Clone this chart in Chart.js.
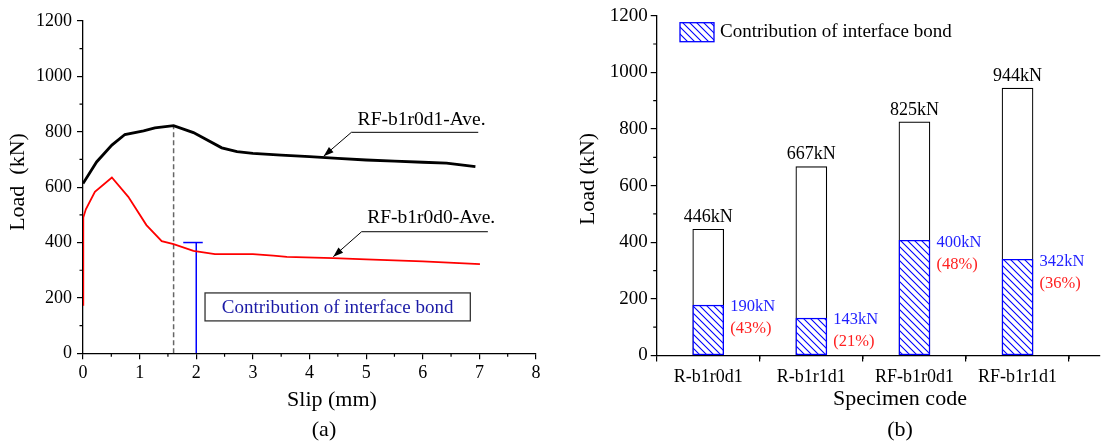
<!DOCTYPE html>
<html lang="en">
<head>
<meta charset="UTF-8">
<title>Load-slip and interface bond contribution</title>
<script src="https://cdn.jsdelivr.net/npm/chart.js"></script>
<style>
  body { margin: 0; background: #fff; }
  .wrap { position: relative; width: 1110px; height: 441px; }
  .wrap canvas { position: absolute; top: 0; }
  #chartA { left: 0; }
  #chartB { left: 555px; }
</style>
</head>
<body>
<div class="wrap">
  <canvas id="chartA" width="555" height="441"></canvas>
  <canvas id="chartB" width="555" height="441"></canvas>
</div>
<script>
// (a) load-slip curves
const slipBlack = [0, 0.24, 0.51, 0.74, 1.07, 1.27, 1.6, 1.95, 2.45, 2.72, 3.0, 3.5, 4.0, 4.5, 5.0, 5.5, 6.0, 6.42, 6.93];
const loadBlack = [613, 691, 752, 790, 803, 814, 822, 797, 742, 728, 722, 716, 710, 704, 698, 694, 690, 687, 674];
const slipRed = [0, 0.005, 0.05, 0.21, 0.51, 0.80, 1.12, 1.39, 1.6, 1.95, 2.33, 3.0, 3.36, 3.6, 4.42, 5.0, 6.0, 7.01];
const loadRed = [175, 490, 520, 583, 635, 565, 463, 405, 394, 370, 358, 358, 353, 348, 344, 339, 332, 322];
const peakSlip = 1.6, peakLoad = 822;
const bondSlip = 2, bondLoad = 400;

// (b) specimens
const specimens = ['R-b1r0d1', 'R-b1r1d1', 'RF-b1r0d1', 'RF-b1r1d1'];
const peakLoads = [446, 667, 825, 944];
const bondBars = [178, 132, 407, 340];   // hatched heights as drawn
const bondLabels = [190, 143, 400, 342]; // printed values
const bondShare = [43, 21, 48, 36];

const SERIF = '"Liberation Serif", "Times New Roman", serif';

function pts(xs, ys) {
    return xs.map((x, i) => ({ x: x, y: ys[i] }));
}

function range(from, to, step) {
    const out = [];
    for (let v = from; v <= to + 1e-9; v += step) out.push(v);
    return out;
}

function minorTicks(scale, values, len) {
    const ctx = scale.ctx;
    ctx.save();
    ctx.strokeStyle = '#000';
    ctx.lineWidth = 1.2;
    ctx.beginPath();
    values.forEach(v => {
        const p = scale.getPixelForValue(v);
        if (scale.isHorizontal()) {
            ctx.moveTo(p, scale.top);
            ctx.lineTo(p, scale.top + len);
        } else {
            ctx.moveTo(scale.right, p);
            ctx.lineTo(scale.right - len, p);
        }
    });
    ctx.stroke();
    ctx.restore();
}

function text(ctx, str, x, y, size, color, align, rotate) {
    ctx.save();
    ctx.font = size + 'px ' + SERIF;
    ctx.fillStyle = color;
    ctx.textAlign = align || 'center';
    ctx.textBaseline = 'middle';
    ctx.translate(x, y);
    if (rotate) ctx.rotate(-Math.PI / 2);
    ctx.fillText(str, 0, 0);
    ctx.restore();
}

function arrow(ctx, pts) {
    // pts: [end, elbow, tip] in pixels
    ctx.save();
    ctx.strokeStyle = '#000';
    ctx.fillStyle = '#000';
    ctx.lineWidth = 1;
    ctx.beginPath();
    ctx.moveTo(pts[0][0], pts[0][1]);
    ctx.lineTo(pts[1][0], pts[1][1]);
    ctx.lineTo(pts[2][0], pts[2][1]);
    ctx.stroke();
    const dx = pts[2][0] - pts[1][0], dy = pts[2][1] - pts[1][1];
    const a = Math.atan2(dy, dx);
    ctx.translate(pts[2][0], pts[2][1]);
    ctx.rotate(a);
    ctx.beginPath();
    ctx.moveTo(0, 0);
    ctx.lineTo(-10, -3.5);
    ctx.lineTo(-10, 3.5);
    ctx.closePath();
    ctx.fill();
    ctx.restore();
}

const axisLine = { color: '#000', width: 1.3 };
const tickGrid = { drawOnChartArea: false, color: '#000', tickLength: 6, lineWidth: 1.2 };
const plainNum = v => String(v);

// ---------- chart (a) ----------
const decorA = {
    id: 'decorA',
    afterDraw(chart) {
        const ctx = chart.ctx;
        const xs = chart.scales.x, ys = chart.scales.y;
        const P = (x, y) => [xs.getPixelForValue(x), ys.getPixelForValue(y)];

        minorTicks(xs, range(0.5, 7.5, 1), 3.5);
        minorTicks(ys, range(100, 1100, 200), 3.5);

        // cap of the bond bracket
        const cap = P(bondSlip, bondLoad);
        ctx.save();
        ctx.strokeStyle = '#0000ff';
        ctx.lineWidth = 1.5;
        ctx.beginPath();
        ctx.moveTo(cap[0] - 13, cap[1]);
        ctx.lineTo(cap[0] + 6.5, cap[1]);
        ctx.stroke();
        ctx.restore();

        // leader arrows
        arrow(ctx, [P(6.98, 798), P(4.74, 798), P(4.25, 712)]);
        let c = P(5.98, 842);
        text(ctx, 'RF-b1r0d1-Ave.', c[0], c[1], 19.5, '#000');
        arrow(ctx, [P(7.15, 439), P(4.92, 439), P(4.42, 349)]);
        c = P(6.15, 489);
        text(ctx, 'RF-b1r0d0-Ave.', c[0], c[1], 19.5, '#000');

        // bond box
        const b0 = P(2.155, 218), b1 = P(6.84, 117);
        ctx.save();
        ctx.fillStyle = '#fff';
        ctx.strokeStyle = '#333';
        ctx.lineWidth = 1.3;
        ctx.fillRect(b0[0], b0[1], b1[0] - b0[0], b1[1] - b0[1]);
        ctx.strokeRect(b0[0], b0[1], b1[0] - b0[0], b1[1] - b0[1]);
        ctx.restore();
        text(ctx, 'Contribution of interface bond', (b0[0] + b1[0]) / 2, (b0[1] + b1[1]) / 2 + 1, 19, '#1a1aa6');

        // titles
        text(ctx, 'Slip (mm)', 332, 400, 22, '#000');
        text(ctx, '(a)', 324, 430, 22, '#000');
        text(ctx, 'Load  (kN)', 18, 182, 22, '#000', 'center', true);
    }
};

new Chart(document.getElementById('chartA'), {
    type: 'scatter',
    data: {
        datasets: [
            { data: pts(slipBlack, loadBlack), showLine: true, borderColor: '#000', borderWidth: 2.8, pointRadius: 0, order: 0 },
            { data: pts(slipRed, loadRed), showLine: true, borderColor: '#ff0000', borderWidth: 1.8, pointRadius: 0, order: 1 },
            { data: [{ x: peakSlip, y: 0 }, { x: peakSlip, y: peakLoad }], showLine: true, borderColor: '#666', borderWidth: 1.5, borderDash: [5, 3], pointRadius: 0, order: 2 },
            { data: [{ x: bondSlip, y: 0 }, { x: bondSlip, y: bondLoad }], showLine: true, borderColor: '#0000ff', borderWidth: 1.5, pointRadius: 0, order: 3 }
        ]
    },
    options: {
        responsive: false,
        animation: false,
        layout: { padding: { left: 0, right: 19, top: 21, bottom: 0 } },
        plugins: { legend: { display: false }, tooltip: { enabled: false } },
        scales: {
            x: {
                type: 'linear', min: 0, max: 8,
                afterFit: s => { s.height = 87.7; },
                ticks: { stepSize: 1, color: '#000', padding: 3, font: { family: SERIF, size: 18 }, callback: plainNum },
                grid: tickGrid,
                border: axisLine
            },
            y: {
                min: 0, max: 1200,
                afterFit: s => { s.width = 83; },
                ticks: { stepSize: 200, color: '#000', padding: 5, font: { family: SERIF, size: 18 }, callback: plainNum },
                grid: tickGrid,
                border: axisLine
            }
        }
    },
    plugins: [decorA]
});

// ---------- chart (b) ----------
const ctxB = document.getElementById('chartB').getContext('2d');

function hatch() {
    const c = document.createElement('canvas');
    c.width = 7; c.height = 7;
    const g = c.getContext('2d');
    g.fillStyle = '#fff';
    g.fillRect(0, 0, 7, 7);
    g.strokeStyle = '#0000ff';
    g.lineWidth = 1.1;
    g.beginPath();
    g.moveTo(-1, -1); g.lineTo(8, 8);
    g.moveTo(-1, 6); g.lineTo(1, 8);
    g.moveTo(6, -1); g.lineTo(8, 1);
    g.stroke();
    return ctxB.createPattern(c, 'repeat');
}
const hatchFill = hatch();

const decorB = {
    id: 'decorB',
    afterDraw(chart) {
        const ctx = chart.ctx;
        const xs = chart.scales.x, ys = chart.scales.y;

        minorTicks(xs, range(1.5, 4.5, 1), 3.5);
        minorTicks(ys, range(100, 1100, 200), 3.5);

        const total = chart.getDatasetMeta(1).data;
        const bond = chart.getDatasetMeta(0).data;
        total.forEach((bar, i) => {
            text(ctx, peakLoads[i] + 'kN', bar.x, bar.y - 12, 18, '#000');
        });
        bond.forEach((bar, i) => {
            const x = bar.x + bar.width / 2 + 6.5;
            text(ctx, bondLabels[i] + 'kN', x, bar.y + 2, 16.5, '#1f1fff', 'left');
            text(ctx, '(' + bondShare[i] + '%)', x, bar.y + 24, 16.5, '#ff2020', 'left');
        });

        // legend
        ctx.save();
        ctx.fillStyle = hatchFill;
        ctx.fillRect(125, 22.7, 34, 19);
        ctx.strokeStyle = '#0000ff';
        ctx.lineWidth = 1.3;
        ctx.strokeRect(125, 22.7, 34, 19);
        ctx.restore();
        text(ctx, 'Contribution of interface bond', 165, 32, 19, '#000', 'left');

        // titles
        text(ctx, 'Specimen code', 345, 399, 22, '#000');
        text(ctx, '(b)', 345, 430, 22, '#000');
        text(ctx, 'Load (kN)', 33, 179, 22, '#000', 'center', true);
    }
};

new Chart(ctxB, {
    type: 'bar',
    data: {
        datasets: [
            {
                data: pts([1, 2, 3, 4], bondBars),
                backgroundColor: hatchFill, borderColor: '#0000ff', borderWidth: 1.4,
                borderSkipped: false, grouped: false, barThickness: 31, order: 0
            },
            {
                data: pts([1, 2, 3, 4], peakLoads),
                backgroundColor: '#fff', borderColor: '#000', borderWidth: 1.2,
                borderSkipped: false, grouped: false, barThickness: 31, order: 1
            }
        ]
    },
    options: {
        responsive: false,
        animation: false,
        layout: { padding: { left: 0, right: 10, top: 15.7, bottom: 0 } },
        plugins: { legend: { display: false }, tooltip: { enabled: false } },
        scales: {
            x: {
                type: 'linear', min: 0.5, max: 4.8, offset: false,
                afterBuildTicks: s => { s.ticks = specimens.map((_, i) => ({ value: i + 1 })); },
                afterFit: s => { s.height = 85.5; },
                ticks: {
                    autoSkip: false, maxRotation: 0, color: '#000', padding: 5,
                    font: { family: SERIF, size: 18 },
                    callback: (v, i) => specimens[i]
                },
                grid: tickGrid,
                border: axisLine
            },
            y: {
                min: 0, max: 1200,
                afterFit: s => { s.width = 101.7; },
                ticks: { stepSize: 200, color: '#000', padding: 3, font: { family: SERIF, size: 19 }, callback: plainNum },
                grid: tickGrid,
                border: axisLine
            }
        }
    },
    plugins: [decorB]
});
</script>
</body>
</html>
